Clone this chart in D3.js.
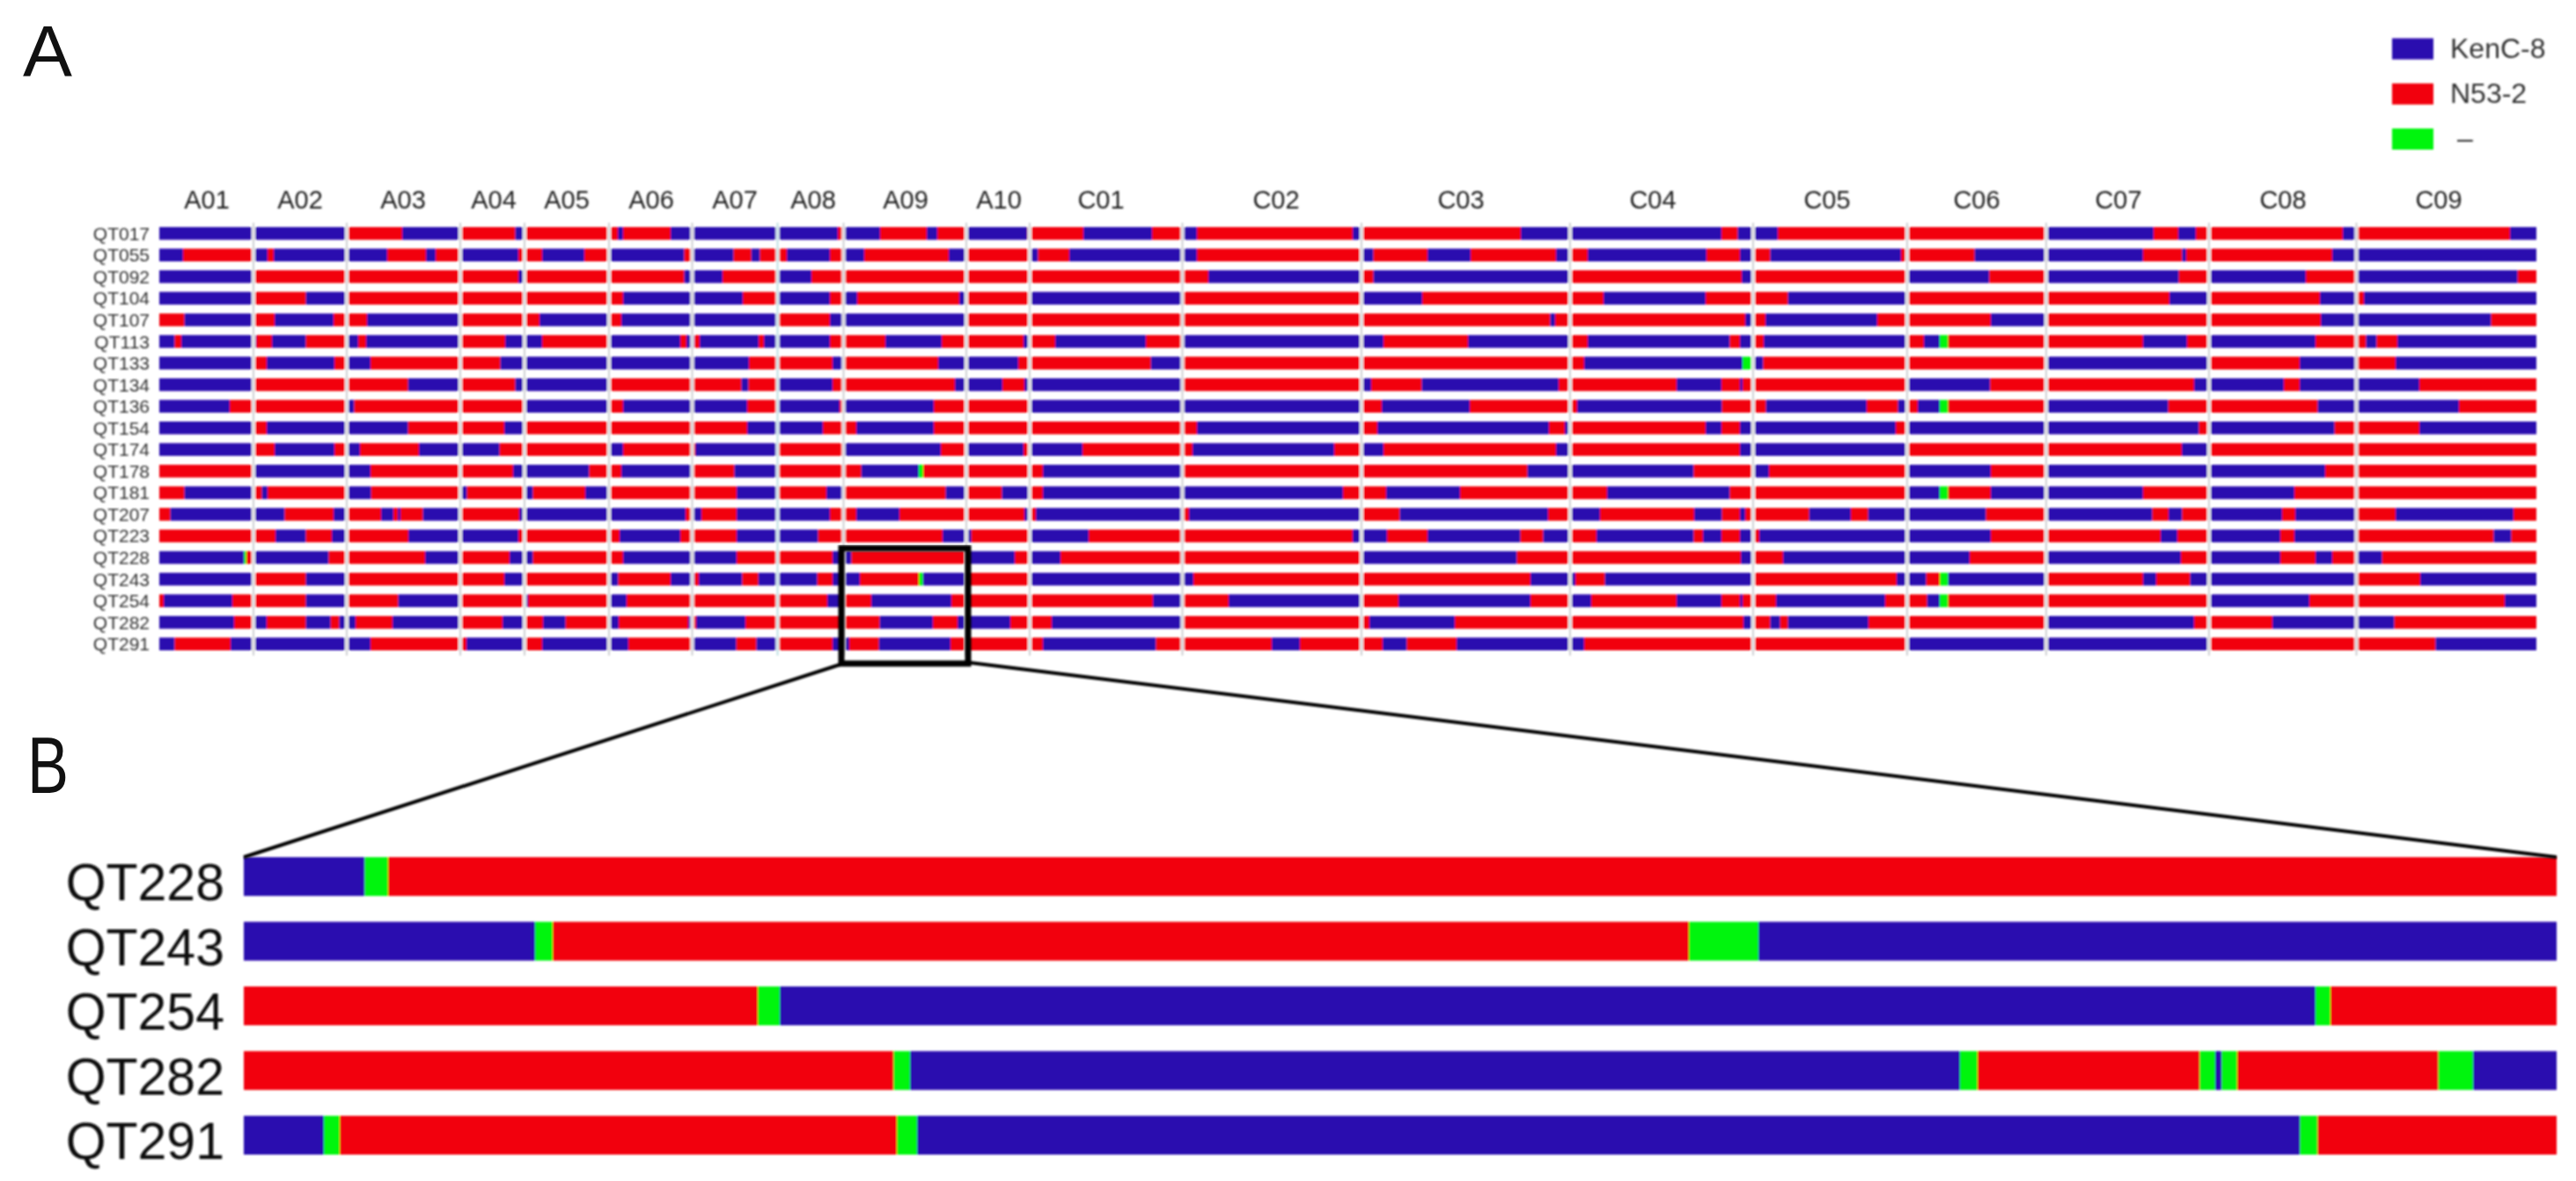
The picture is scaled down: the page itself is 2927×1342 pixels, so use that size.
<!DOCTYPE html>
<html><head><meta charset="utf-8">
<script src="https://cdn.jsdelivr.net/npm/d3@7/dist/d3.min.js"></script>
<style>html,body{margin:0;padding:0;background:#fff}svg{display:block}text{font-family:"Liberation Sans",Arial,sans-serif}</style>
</head><body><div id="c"></div><script>
const chromNames=["A01","A02","A03","A04","A05","A06","A07","A08","A09","A10","C01","C02","C03","C04","C05","C06","C07","C08","C09"];
const chromBounds=[181,288,394,523,596,692,786.5,883.5,958.5,1098,1170,1343.5,1547,1784,1992,2167,2325,2510,2677.5,2882];
const chromLabelPos=[235,341,458,561,644,740,835,924,1029,1135,1251,1450,1660,1878,2076,2246,2407,2594,2771];
const samples=["QT017","QT055","QT092","QT104","QT107","QT113","QT133","QT134","QT136","QT154","QT174","QT178","QT181","QT207","QT223","QT228","QT243","QT254","QT282","QT291"];
const legendNames=["KenC-8","N53-2","–"];
// each list: allele, position where that allele's run ends, allele, ...
const QT017=["K",394,"N",457,"K",523,"N",585.5,"K",596,"N",702,"K",708,"N",762,"K",952,"N",958.5,"K",1000,"N",1053,"K",1065,"N",1098,"K",1167.5,"N",1231,"K",1309,"N",1343.5,"K",1360,"N",1537,"K",1547,"N",1728,"K",1956,"N",1974.5,"K",2020,"N",2325,"K",2447,"N",2475,"K",2495,"N",2662,"K",2677.5,"N",2852,"K",2882];
const QT055=["K",208,"N",288,"K",304,"N",311,"K",440,"N",484,"K",495,"N",523,"K",589,"N",616,"K",664,"N",692,"K",777.5,"N",786,"K",833.6,"N",853.7,"K",863.5,"N",894,"K",943,"N",958.5,"K",982,"N",1078,"K",1098,"N",1170,"K",1179.5,"N",1215,"K",1360,"N",1547,"K",1560.6,"N",1622,"K",1671,"N",1768,"K",1784,"N",1804,"K",1939,"N",1977,"K",1992,"N",2011.5,"K",2160,"N",2243.7,"K",2435,"N",2479.5,"K",2484,"N",2650,"K",2882];
const QT092=["K",288,"N",589,"K",596,"N",777.5,"K",821,"N",883.5,"K",922,"N",1373,"K",1547,"N",1560.6,"K",1784,"N",1979,"K",1992,"N",2167,"K",2260.4,"N",2325,"K",2475.7,"N",2510,"K",2620,"N",2677.5,"K",2860.7,"N",2882];
const QT104=["K",288,"N",347.6,"K",394,"N",708,"K",844,"N",883.5,"K",943,"N",958.5,"K",974,"N",1090,"K",1098,"N",1170,"K",1343.5,"N",1547,"K",1616,"N",1822,"K",1938,"N",2031.6,"K",2167,"N",2465,"K",2510,"N",2636,"K",2677.5,"N",2686,"K",2882];
const QT107=["N",209.6,"K",288,"N",312,"K",379,"N",417,"K",523,"N",613,"K",692,"N",706,"K",883.5,"N",943,"K",1098,"N",1761.5,"K",1767,"N",1983,"K",1992,"N",2006,"K",2133,"N",2262,"K",2325,"N",2637,"K",2830.6,"N",2882];
const QT113=["K",198.5,"N",206,"K",291,"N",309,"K",347.6,"N",394,"K",407,"N",416,"K",523,"N",574,"K",616,"N",692,"K",773,"N",780,"K",789,"N",795,"K",862,"N",868,"K",943,"N",1006,"K",1070,"N",1163,"K",1170,"N",1199,"K",1302,"N",1343.5,"K",1572,"N",1668,"K",1784,"N",1804,"K",1965.5,"N",1977,"K",1992,"N",2004,"K",2167,"N",2186,"K",2204,"G",2213.6,"N",2435,"K",2485,"N",2510,"K",2631,"N",2688.5,"K",2700.5,"N",2724,"K",2882];
const QT133=["K",288,"N",303,"K",380,"N",394,"K",421,"N",568.6,"K",851,"N",946,"K",958.5,"N",1066,"K",1157,"N",1307.7,"K",1343.5,"N",1800,"K",1980,"G",1992,"K",2003.5,"N",2325,"K",2510,"N",2613,"K",2677.5,"N",2722,"K",2882];
const QT134=["K",288,"N",463.7,"K",523,"N",585.5,"K",692,"N",842.5,"K",850.5,"N",883.5,"K",946,"N",1085,"K",1139,"N",1164,"K",1343.5,"N",1547,"K",1558,"N",1615.5,"K",1771,"N",1905,"K",1956,"N",1977,"K",1980,"N",2167,"K",2261.4,"N",2493,"K",2595,"N",2613,"K",2749,"N",2882];
const QT136=["K",261,"N",394,"K",402.5,"N",596,"K",692,"N",708,"K",849,"N",883.5,"K",954,"N",958.5,"K",1061,"N",1170,"K",1547,"N",1570,"K",1670,"N",1792,"K",1956.6,"N",2006.6,"K",2121,"N",2156.6,"K",2167,"N",2179,"K",2204,"G",2213.6,"N",2325,"K",2463.7,"N",2633.5,"K",2794,"N",2882];
const QT154=["K",288,"N",303,"K",463.7,"N",573,"K",596,"N",849,"K",935,"N",973,"K",1061,"N",1360,"K",1547,"N",1565,"K",1760,"N",1778,"K",1784,"N",1938,"K",1956,"N",1977,"K",2154,"N",2167,"K",2498.6,"N",2510,"K",2652.7,"N",2749,"K",2882];
const QT174=["K",288,"N",312,"K",380,"N",394,"K",409,"N",476,"K",567.7,"N",692,"K",708,"N",790,"K",883.5,"N",958.5,"K",1069,"N",1098,"K",1163,"N",1170,"K",1230,"N",1355,"K",1516,"N",1547,"K",1572,"N",1768,"K",1784,"N",1977,"K",2167,"N",2479,"K",2510,"N",2882];
const QT178=["N",288,"K",421,"N",583,"K",669.5,"N",706,"K",786,"N",834.5,"K",883.5,"N",978.7,"K",1044,"G",1049,"N",1185,"K",1343.5,"N",1735.6,"K",1924.5,"N",1992,"K",2010,"N",2167,"K",2262,"N",2325,"K",2642,"N",2882];
const QT181=["N",209.6,"K",288,"N",297.6,"K",304,"N",394,"K",421.7,"N",523,"K",530.6,"N",596,"K",605.6,"N",665,"K",692,"N",837,"K",883.5,"N",939,"K",958.5,"N",1074.6,"K",1098,"N",1138.5,"K",1170,"N",1185,"K",1526,"N",1575,"K",1659,"N",1826,"K",1965.5,"N",2167,"K",2204,"G",2213.6,"N",2262,"K",2435,"N",2510,"K",2607,"N",2882];
const QT207=["N",193.6,"K",323.5,"N",379,"K",394,"N",433,"K",447,"N",452,"K",455,"N",480.6,"K",523,"N",590,"K",779,"N",786,"K",797,"N",837,"K",943,"N",973,"K",1022,"N",1164,"K",1170,"N",1177,"K",1343.5,"N",1351,"K",1547,"N",1590.5,"K",1759,"N",1784,"K",1818,"N",1925,"K",1956.6,"N",1977,"K",1983,"N",2055.7,"K",2103,"N",2122.7,"K",2256.6,"N",2325,"K",2445.6,"N",2464,"K",2479.5,"N",2510,"K",2593,"N",2608,"K",2677.5,"N",2722,"K",2856,"N",2882];
const QT223=["N",313,"K",347.6,"N",377,"K",394,"N",464,"K",589,"N",704,"K",773,"N",837,"K",929.6,"N",1071,"K",1103.7,"N",1170,"K",1237,"N",1537,"K",1576,"N",1622,"K",1727.6,"N",1753.5,"K",1784,"N",1814,"K",1924.5,"N",1935,"K",1956,"N",1977,"K",1992,"N",1999,"K",2262,"N",2455,"K",2474,"N",2510,"K",2591,"N",2607,"K",2677.5,"N",2833.5,"K",2853.5,"N",2882];
const QT228=["K",277.5,"G",280,"N",288,"K",373.5,"N",483,"K",523,"N",579,"K",605.6,"N",708,"K",837,"N",946,"K",967.5,"N",1098,"K",1153,"N",1170,"K",1205,"N",1547,"K",1723.6,"N",1978,"K",1992,"N",2026,"K",2238,"N",2325,"K",2478,"N",2510,"K",2591,"N",2631,"K",2650,"N",2677.5,"K",2706.7,"N",2882];
const QT243=["K",288,"N",347.6,"K",394,"N",573,"K",596,"N",692,"K",702.5,"N",762,"K",789,"N",794,"K",843.4,"N",861.7,"K",928.7,"N",946,"K",977,"N",1044,"G",1048.7,"K",1098,"N",1170,"K",1356,"N",1739,"K",1790,"N",1823.6,"K",1992,"N",2155,"K",2188.7,"N",2204,"G",2213.6,"K",2325,"N",2435,"K",2450,"N",2488.6,"K",2677.5,"N",2750,"K",2882];
const QT254=["N",186,"K",264,"N",347.6,"K",394,"N",452.5,"K",523,"N",596,"K",600,"N",692,"K",712,"N",940,"K",955,"N",990,"K",1081,"N",1310,"K",1343.5,"N",1396,"K",1547,"N",1589,"K",1739,"N",1784,"K",1808,"N",1905,"K",1956,"N",1977,"K",1980,"N",2018,"K",2142,"N",2189.7,"K",2204,"G",2213.6,"N",2510,"K",2624,"N",2846,"K",2882];
const QT282=["K",266,"N",288,"K",303,"N",347.6,"K",375.7,"N",385.5,"K",404,"N",446,"K",523,"N",571,"K",596,"N",617,"K",642.7,"N",692,"K",703,"N",782,"K",786,"N",791,"K",847,"N",999.6,"K",1060,"N",1088,"K",1148,"N",1195,"K",1343.5,"N",1556,"K",1653,"N",1981,"K",1992,"N",2011.5,"K",2022.7,"N",2031.6,"K",2123,"N",2325,"K",2493,"N",2582,"K",2720.6,"N",2882];
const QT291=["K",198.5,"N",262,"K",421,"N",530,"K",596,"N",616,"K",714,"N",786,"K",836.7,"N",859.5,"K",883.5,"N",946,"K",965,"N",998.7,"K",1080,"N",1185,"K",1313.5,"N",1445,"K",1477,"N",1571,"K",1598.6,"N",1655,"K",1800,"N",2167,"K",2510,"N",2767.4,"K",2882];
const rowsA=[QT017,QT055,QT092,QT104,QT107,QT113,QT133,QT134,QT136,QT154,QT174,QT178,QT181,QT207,QT223,QT228,QT243,QT254,QT282,QT291];
// zoomed region, same layout of lists
const zoomSamples=["QT228","QT243","QT254","QT282","QT291"];
const zoomQT228=["K",414.5,"G",441,"N",2905];
const zoomQT243=["K",608,"G",628,"N",1919,"G",1998,"K",2905];
const zoomQT254=["N",861,"G",886,"K",2631,"G",2648,"N",2905];
const zoomQT282=["N",1015.5,"G",1034,"K",2227,"G",2247,"N",2499.5,"G",2517,"K",2524.5,"G",2542,"N",2770.6,"G",2810,"K",2905];
const zoomQT291=["K",368,"G",386,"N",1019,"G",1042,"K",2613.5,"G",2633.5,"N",2905];
const rowsB=[zoomQT228,zoomQT243,zoomQT254,zoomQT282,zoomQT291];

const color=d3.scaleOrdinal().domain(["K","N","G"]).range(["#2a0aaf","#f20008","#00f510"]);
const svg=d3.select("#c").append("svg").attr("width",2927).attr("height",1342);
const defs=svg.append("defs");
defs.append("filter").attr("id","blurA").attr("x","-1%").attr("y","-1%").attr("width","102%").attr("height","102%").append("feGaussianBlur").attr("stdDeviation",1.1);
defs.append("filter").attr("id","blurB").attr("x","-1%").attr("y","-1%").attr("width","102%").attr("height","102%").append("feGaussianBlur").attr("stdDeviation",0.8);

function runs(list,start){
  const out=[];let s=start;
  for(let i=0;i<list.length;i+=2){out.push({a:list[i],s:s,e:list[i+1]});s=list[i+1];}
  return out;
}
function drawRows(g,rows,names,x,y,start){
  const row=g.selectAll("g.row").data(rows).join("g").attr("class","row").attr("transform",(d,i)=>`translate(0,${y(names[i])})`);
  row.selectAll("rect").data(d=>runs(d,start)).join("rect")
    .attr("x",d=>x(d.s)).attr("width",d=>x(d.e)-x(d.s)).attr("height",y.bandwidth()).attr("fill",d=>color(d.a));
}

// Panel A
const xA=d3.scaleLinear().domain([181,2882]).range([181,2882]);
const yA=d3.scaleBand().domain(samples).range([258,739]).paddingInner(0.41);
const gA=svg.append("g").attr("filter","url(#blurA)");
drawRows(gA,rowsA,samples,xA,yA,181);
const inner=chromBounds.slice(1,-1);
gA.selectAll("rect.gap").data(inner).join("rect").attr("class","gap").attr("x",d=>xA(d)-2.1).attr("width",4.2).attr("y",252).attr("height",494).attr("fill","#fff");
gA.selectAll("line.bound").data(inner).join("line").attr("class","bound").attr("x1",d=>xA(d)).attr("x2",d=>xA(d)).attr("y1",253).attr("y2",745).attr("stroke",(d,i)=>i===6?"#a9d8da":"#bfc1c4").attr("stroke-width",1.6);
gA.selectAll("text.chrom").data(chromNames).join("text").attr("class","chrom").attr("x",(d,i)=>xA(chromLabelPos[i])).attr("y",237).attr("text-anchor","middle").attr("font-size",29).attr("fill","#222").text(d=>d);
gA.selectAll("text.samp").data(samples).join("text").attr("class","samp").attr("x",170).attr("y",d=>yA(d)+yA.bandwidth()/2+7.5).attr("text-anchor","end").attr("font-size",21).attr("fill","#333").text(d=>d);

// Panel B
const xB=d3.scaleLinear().domain([277,2905]).range([277,2905]);
const yB=d3.scaleBand().domain(zoomSamples).range([974,1312]).paddingInner(0.4);
const gB=svg.append("g").attr("filter","url(#blurB)");
drawRows(gB,rowsB,zoomSamples,xB,yB,277);
gB.selectAll("text.zs").data(zoomSamples).join("text").attr("class","zs").attr("x",255).attr("y",d=>yB(d)+yB.bandwidth()+5).attr("text-anchor","end").attr("font-size",59).attr("fill","#111").text(d=>d);

// Zoom box and connectors
const gC=svg.append("g").attr("filter","url(#blurB)");
gC.append("rect").attr("x",956).attr("y",623).attr("width",144).attr("height",131).attr("fill","none").attr("stroke","#000").attr("stroke-width",7);
gC.append("line").attr("x1",955).attr("y1",755).attr("x2",277).attr("y2",974).attr("stroke","#000").attr("stroke-width",4);
gC.append("line").attr("x1",1102).attr("y1",753).attr("x2",2905).attr("y2",974).attr("stroke","#000").attr("stroke-width",4);

// Legend
const yL=d3.scalePoint().domain(legendNames).range([55.5,158]);
const gL=svg.append("g").attr("filter","url(#blurA)");
gL.selectAll("rect").data(legendNames).join("rect").attr("x",2718).attr("y",d=>yL(d)-12).attr("width",47).attr("height",24).attr("fill",(d,i)=>color.range()[i]);
gL.selectAll("text").data(legendNames).join("text").attr("x",(d,i)=>i<2?2784:2792).attr("y",d=>yL(d)+10).attr("font-size",32).attr("fill","#333").text(d=>d);

// Panel letters
svg.append("text").attr("x",26).attr("y",86).attr("font-size",82).attr("textLength",56).attr("lengthAdjust","spacingAndGlyphs").attr("fill","#111").text("A");
svg.append("text").attr("x",31).attr("y",901).attr("font-size",90).attr("textLength",47).attr("lengthAdjust","spacingAndGlyphs").attr("fill","#111").text("B");
</script></body></html>
